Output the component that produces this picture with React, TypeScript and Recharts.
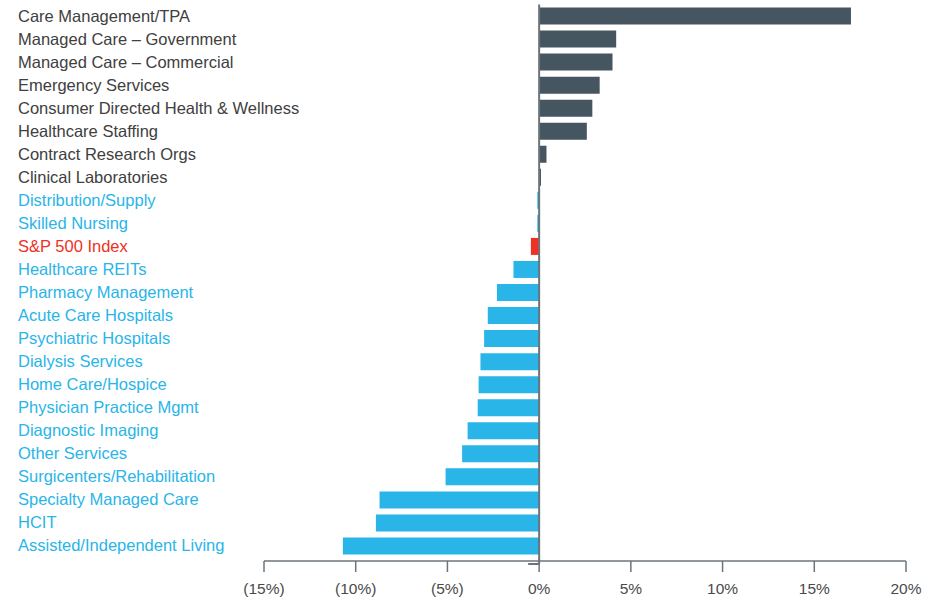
import React from 'react';
import { BarChart, Bar, XAxis, YAxis, Cell, ReferenceLine } from 'recharts';

const categories = [
    'Care Management/TPA',
    'Managed Care – Government',
    'Managed Care – Commercial',
    'Emergency Services',
    'Consumer Directed Health & Wellness',
    'Healthcare Staffing',
    'Contract Research Orgs',
    'Clinical Laboratories',
    'Distribution/Supply',
    'Skilled Nursing',
    'S&P 500 Index',
    'Healthcare REITs',
    'Pharmacy Management',
    'Acute Care Hospitals',
    'Psychiatric Hospitals',
    'Dialysis Services',
    'Home Care/Hospice',
    'Physician Practice Mgmt',
    'Diagnostic Imaging',
    'Other Services',
    'Surgicenters/Rehabilitation',
    'Specialty Managed Care',
    'HCIT',
    'Assisted/Independent Living',
];

const returns = [
    17.0, 4.2, 4.0, 3.3, 2.9, 2.6, 0.4, 0.1, -0.1, -0.1, -0.45, -1.4, -2.3, -2.8, -3.0,
    -3.2, -3.3, -3.35, -3.9, -4.2, -5.1, -8.7, -8.9, -10.7,
];

const xTicks = [-15, -10, -5, 0, 5, 10, 15, 20];
const benchmark = 'S&P 500 Index';

const DARK = '#465660';
const BLUE = '#29b5e8';
const RED = '#ee3124';
const DARK_TEXT = '#404040';

const colorFor = (name: string, v: number) => (name === benchmark ? RED : v >= 0 ? DARK : BLUE);
const textColorFor = (name: string, v: number) => (name === benchmark ? RED : v >= 0 ? DARK_TEXT : BLUE);

const data = categories.map((name, i) => ({ name, value: returns[i] }));

const fmt = (v: number) => (v < 0 ? `(${Math.abs(v)}%)` : `${v}%`);

function CategoryTick(props: any) {
    const { y, payload } = props;
    const row = data.find((d) => d.name === payload.value);
    const v = row ? row.value : 0;
    return (
        <text x={18} y={y} dy={5.5} textAnchor="start" fontSize={16.5} fill={textColorFor(payload.value, v)}
            fontFamily="'Liberation Sans', Arial, sans-serif">
            {payload.value}
        </text>
    );
}

function ZeroLine(props: any) {
    const { x1, y1, y2 } = props;
    const top = y1 + 3;
    return (
        <g>
            <line x1={x1} y1={top} x2={x1} y2={y2} stroke="#6b747c" strokeWidth={2} />
            <line x1={x1 - 11} y1={top} x2={x1} y2={top} stroke="#6b747c" strokeWidth={2} />
        </g>
    );
}

export default function App() {
    return (
        <div style={{ position: 'absolute', left: 0, top: 0, background: '#fff' }}>
            <BarChart width={941} height={600} data={data} layout="vertical"
                margin={{ top: 4.5, right: 35, bottom: 0, left: 0 }} barSize={17}>
                <XAxis type="number" domain={[-15, 20]} ticks={xTicks} tickFormatter={fmt}
                    height={39} tickSize={11} tickMargin={11} interval={0}
                    axisLine={{ stroke: '#6b747c', strokeWidth: 1.5 }}
                    tickLine={{ stroke: '#6b747c', strokeWidth: 1.5 }}
                    tick={{ fontSize: 15.5, fill: '#4a4a4a', fontFamily: "'Liberation Sans', Arial, sans-serif" }} />
                <YAxis type="category" dataKey="name" width={264} axisLine={false} tickLine={false}
                    padding={{ top: 0, bottom: 3.5 }} interval={0} tick={<CategoryTick />} />
                <Bar dataKey="value" isAnimationActive={false}>
                    {data.map((d, i) => (
                        <Cell key={`c-${i}`} fill={colorFor(d.name, d.value)} />
                    ))}
                </Bar>
                <ReferenceLine x={0} shape={<ZeroLine />} />
            </BarChart>
        </div>
    );
}
